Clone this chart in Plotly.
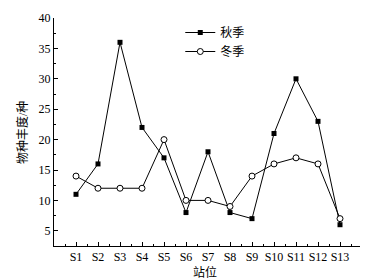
import plotly.graph_objects as go

stations = ["S1","S2","S3","S4","S5","S6","S7","S8","S9","S10","S11","S12","S13"]
autumn = [11, 16, 36, 22, 17, 8, 18, 8, 7, 21, 30, 23, 6]
winter = [14, 12, 12, 12, 20, 10, 10, 9, 14, 16, 17, 16, 7]
x_pos = list(range(1, len(stations) + 1))

FONT = "'Liberation Serif', 'Times New Roman', 'Noto Sans CJK SC', serif"

fig = go.Figure()
fig.add_trace(go.Scatter(
    x=x_pos, y=autumn, name="秋季", mode="lines+markers",
    line=dict(color="black", width=1),
    marker=dict(symbol="square", size=5, color="black"),
))
fig.add_trace(go.Scatter(
    x=x_pos, y=winter, name="冬季", mode="lines+markers",
    line=dict(color="black", width=1),
    marker=dict(symbol="circle", size=6, color="white", line=dict(width=1, color="black")),
))

fig.update_layout(
    width=360, height=272,
    margin=dict(l=46, r=6, t=10, b=34, autoexpand=False),
    paper_bgcolor="white", plot_bgcolor="white",
    font=dict(family=FONT, size=12, color="black"),
    showlegend=True,
    legend=dict(x=0.41, y=1.0, xanchor="left", yanchor="top",
                bgcolor="rgba(0,0,0,0)", font=dict(size=12, family=FONT),
                tracegroupgap=0, itemwidth=30),
    xaxis=dict(
        range=[0, 14], tickmode="array", tickvals=x_pos, ticktext=stations,
        showgrid=False, zeroline=False, showline=True, linecolor="black", linewidth=1,
        ticks="inside", ticklen=4, tickcolor="black", automargin=False,
        minor=dict(ticks="inside", ticklen=2, tickcolor="black", dtick=0.5, tick0=0.5, showgrid=False),
        tickfont=dict(size=12, family=FONT),
    ),
    yaxis=dict(
        range=[2.5, 40], tickmode="array", tickvals=[5,10,15,20,25,30,35,40],
        showgrid=False, zeroline=False, showline=True, linecolor="black", linewidth=1,
        ticks="inside", ticklen=4, tickcolor="black", automargin=False,
        minor=dict(ticks="inside", ticklen=2, tickcolor="black", dtick=2.5, tick0=0, showgrid=False),
        tickfont=dict(size=12, family=FONT),
    ),
    annotations=[
        dict(text="站位", xref="paper", yref="paper", x=0.49, y=-0.118,
             xanchor="center", yanchor="middle", showarrow=False,
             font=dict(size=12, family=FONT)),
        dict(text="物种丰度/种", xref="paper", yref="paper", x=-0.104, y=0.5,
             xanchor="center", yanchor="middle", textangle=-90, showarrow=False,
             font=dict(size=12, family=FONT)),
    ],
)

fig.write_html("out.html")
